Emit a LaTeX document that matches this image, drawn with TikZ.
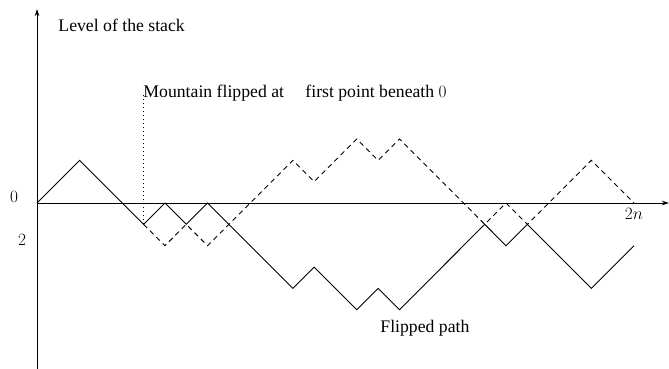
\documentclass[tikz,border=0pt]{standalone}
\usepackage[no-math]{fontspec}
\setmainfont{Liberation Serif}
\usetikzlibrary{arrows.meta}
\begin{document}
\begin{tikzpicture}[x=1pt,y=-1pt, line width=0.9pt,
  lbl/.style={inner sep=0pt, font=\fontsize{17.7}{20}\selectfont},
  flippedline/.style={dash pattern=on 5pt off 4pt},
  marker/.style={dash pattern=on 1pt off 3pt},
  axisline/.style={-{Stealth[length=7pt,width=4.5pt,inset=2pt]}}]
\useasboundingbox (0,0) rectangle (669,369);
% axes
\coordinate (O) at (37,203);
\coordinate (xend) at (669,203);
\coordinate (ybot) at (37,370);
\coordinate (ytop) at (37,9);
\draw[axisline] (O) -- (xend);
\draw[axisline] (ybot) -- (ytop);
% paths on a lattice of unit steps
\begin{scope}[shift={(O)}, x=21.32pt, y=21.35pt]
  \coordinate (m) at (5,-1);
  \draw (0,0) -- (2,2) -- (m) -- (6,0) -- (7,-1) -- (8,0) -- (12,-4) -- (13,-3)
        -- (15,-5) -- (16,-4) -- (17,-5) -- (21,-1) -- (22,-2) -- (23,-1)
        -- (26,-4) -- (28,-2);
  \draw[flippedline] (m) -- (6,-2) -- (7,-1) -- (8,-2) -- (12,2) -- (13,1)
        -- (15,3) -- (16,2) -- (17,3) -- (21,-1) -- (22,0) -- (23,-1)
        -- (26,2) -- (28,0);
  \node[lbl, below] (end) at (28,-0.25) {$2n$};
\end{scope}
\coordinate (dtop) at (143,95);
\draw[marker] (m) -- (m |- dtop);
% labels
\node[lbl, anchor=base west] (ylabel) at (58,32) {Level of the stack};
\node[lbl, anchor=base west] (note1) at (143,97) {Mountain flipped at};
\node[lbl, anchor=base west] (note2) at (305,97) {first point beneath $0$};
\node[lbl, anchor=base west] (flipped) at (380,332) {Flipped path};
\node[lbl] (zero) at (14,197) {$0$};
\node[lbl] (two) at (22,240) {$2$};
\end{tikzpicture}
\end{document}
